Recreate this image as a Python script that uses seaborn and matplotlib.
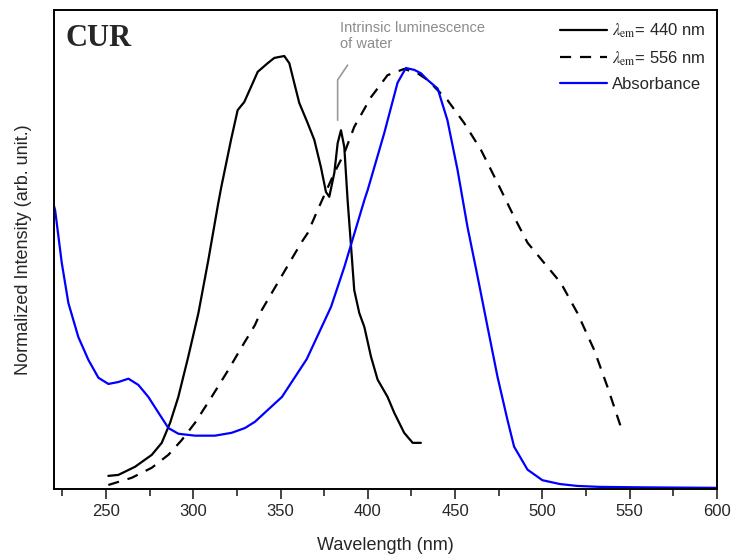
import numpy as np
import pandas as pd
import seaborn as sns
import matplotlib
matplotlib.use("Agg")
import matplotlib.pyplot as plt
from matplotlib.ticker import MultipleLocator

# excitation spectrum, lambda_em = 440 nm
ex440_nm = [251.3, 257, 266.6, 276.2, 281.9, 286.7, 291.4, 297.1, 302.9, 308.6, 314.3,
            316, 321.6, 325.4, 329.2, 333, 336.9, 342.6, 346.4, 352.1, 355, 357.8,
            360.7, 365.5, 369.3, 373.1, 376, 377.9, 380.8, 382.7, 384.6, 386.5, 388.4,
            390.3, 392.2, 395.1, 398, 401.8, 405.6, 411.3, 415.1, 420.8, 425.7, 430.4]
ex440_int = [0.027, 0.029, 0.046, 0.071, 0.096, 0.138, 0.192, 0.276, 0.367, 0.478, 0.597,
             0.630, 0.729, 0.791, 0.808, 0.839, 0.871, 0.889, 0.900, 0.904, 0.889, 0.848,
             0.806, 0.764, 0.729, 0.672, 0.620, 0.610, 0.660, 0.722, 0.749, 0.714, 0.603,
             0.510, 0.415, 0.367, 0.338, 0.276, 0.228, 0.192, 0.159, 0.117, 0.096, 0.096]

# excitation spectrum, lambda_em = 556 nm
ex556_nm = [251.3, 264.7, 276.2, 285.7, 293.4, 301, 310.5, 320, 327.7, 335.3, 339, 352,
            362, 365.5, 371.2, 380.8, 386.5, 392.2, 401.8, 411.3, 420.8, 428.5, 434.2,
            445.6, 455.2, 464.8, 474.3, 483.8, 491.5, 501, 510.6, 520.1, 529.7, 537.3, 545]
ex556_int = [0.008, 0.023, 0.044, 0.071, 0.102, 0.138, 0.192, 0.248, 0.296, 0.342, 0.372,
             0.453, 0.515, 0.534, 0.582, 0.660, 0.701, 0.756, 0.818, 0.864, 0.877, 0.868,
             0.854, 0.812, 0.764, 0.708, 0.639, 0.568, 0.514, 0.472, 0.430, 0.367, 0.290,
             0.213, 0.129]

# absorbance
abs_nm = [220, 220.8, 224.6, 228.4, 234.1, 239.9, 245.6, 251.3, 257, 262.8, 268.5, 274.2,
          280, 285.7, 291.4, 301, 312.4, 322, 329.6, 335.3, 350.8, 365, 378.9, 386.5,
          390.3, 398, 399.9, 409.4, 417, 421.8, 426.6, 430.4, 434.2, 440, 445.6, 451.4,
          457.1, 462.9, 468.6, 474.3, 480, 483.8, 491.5, 500, 510, 520, 533, 560, 600]
abs_int = [0.593, 0.582, 0.472, 0.388, 0.317, 0.269, 0.232, 0.219, 0.223, 0.230, 0.217,
           0.192, 0.159, 0.127, 0.115, 0.111, 0.111, 0.117, 0.127, 0.140, 0.192, 0.271,
           0.380, 0.463, 0.509, 0.603, 0.624, 0.743, 0.848, 0.879, 0.875, 0.868, 0.854,
           0.836, 0.770, 0.666, 0.547, 0.443, 0.338, 0.234, 0.144, 0.088, 0.040, 0.018,
           0.010, 0.006, 0.004, 0.003, 0.002]

labels = [r"$\lambda_{\mathrm{em}}$= 440 nm", r"$\lambda_{\mathrm{em}}$= 556 nm", "Absorbance"]

sns.set_style("ticks")
plt.rcParams["font.family"] = ["Liberation Sans", "DejaVu Sans"]
plt.rcParams["mathtext.fontset"] = "stix"

fig = plt.figure(figsize=(7.36, 5.58), dpi=100)
ax = fig.add_axes([0.073, 0.124, 0.901, 0.858])

sns.lineplot(x=ex440_nm, y=ex440_int, ax=ax, color="black", lw=1.6, label=labels[0])
sns.lineplot(x=ex556_nm, y=ex556_int, ax=ax, color="black", lw=1.6, label=labels[1])
ax.lines[-1].set_dashes((5, 4))
sns.lineplot(x=abs_nm, y=abs_int, ax=ax, color="#0000ff", lw=1.6, label=labels[2])
for ln in ax.lines:
    ln.set_solid_joinstyle("round")

# leader line for water peak
ax.plot([382.7, 382.7, 388.4], [0.770, 0.854, 0.885], color="#999999", lw=1.2)
ax.text(384, 0.978, "Intrinsic luminescence\nof water", color="#8c8c8c",
        fontsize=10.5, va="top", ha="left", linespacing=1.2)

ax.text(0.017, 0.94, "CUR", transform=ax.transAxes, fontsize=22, fontweight="bold",
        family="Liberation Serif", va="center", ha="left")

ax.set_xlim(220, 600)
ax.set_ylim(0, 1)
ax.xaxis.set_major_locator(MultipleLocator(50))
ax.xaxis.set_minor_locator(MultipleLocator(25))
ax.tick_params(axis="x", which="major", direction="out", length=7, width=1.2, labelsize=12,
               pad=4)
ax.tick_params(axis="x", which="minor", direction="out", length=5, width=1.2)
ax.set_yticks([])
for s in ax.spines.values():
    s.set_visible(True)
    s.set_linewidth(1.4)
    s.set_color("black")

ax.set_xlabel("Wavelength (nm)", fontsize=13, labelpad=13)
ax.set_ylabel("Normalized Intensity (arb. unit.)", fontsize=13, labelpad=16)

leg = ax.legend(loc="upper right", frameon=False, fontsize=12, handlelength=2.8,
                handletextpad=0.3, labelspacing=0.55, borderaxespad=0.3)

fig.savefig("out.png", dpi=100, facecolor="white")
